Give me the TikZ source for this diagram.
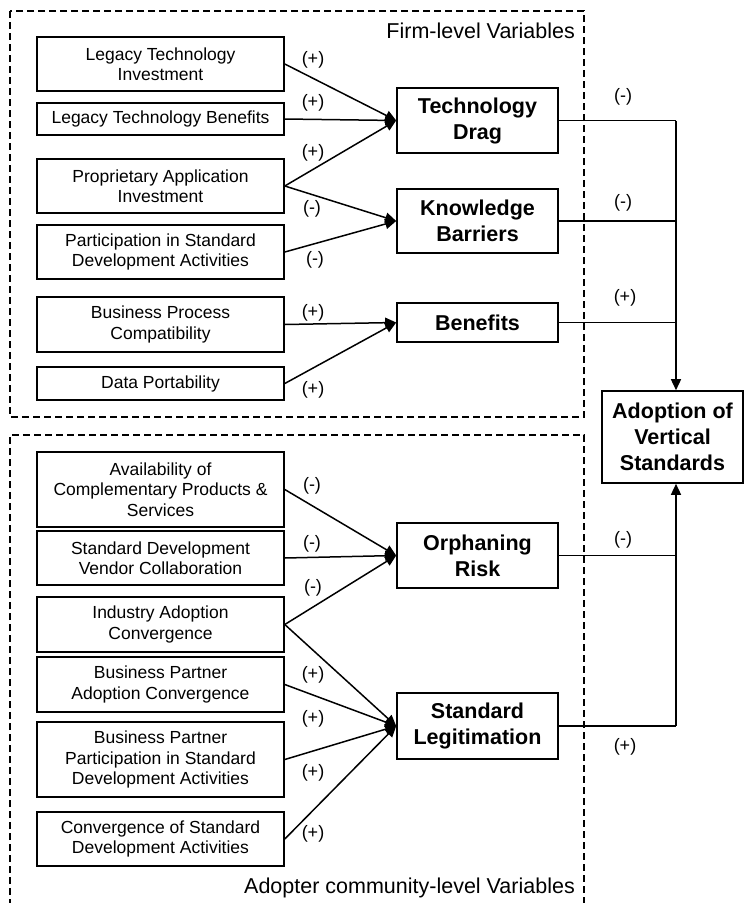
\documentclass[tikz,border=0pt]{standalone}
\usepackage{fontspec}
\setmainfont{Liberation Sans}
\usetikzlibrary{arrows.meta}
\begin{document}
\begin{tikzpicture}[x=1pt,y=-1pt,
  box/.style={draw, line width=1.6pt, align=center, inner sep=0pt, minimum width=247pt, font=\fontsize{17.5}{20.5}\selectfont},
  cbox/.style={draw, line width=1.6pt, align=center, inner sep=0pt, minimum width=161pt, font=\fontsize{21.5}{26}\selectfont\bfseries},
  sgn/.style={font=\fontsize{18}{20}\selectfont, inner sep=0pt},
  grptitle/.style={font=\fontsize{21.5}{24}\selectfont, inner sep=0pt, anchor=east},
  conn/.style={line width=1.5pt, -{Triangle[length=11pt,width=10pt]}},
  link/.style={line width=1.5pt},
  grp/.style={dash pattern=on 7pt off 4pt, line width=1.2pt}]
\useasboundingbox (0,0) rectangle (744,903);

% group frames
\draw[grp] (10,11) rectangle (584,417);
\draw[grp] (10,906) -- (10,435) -- (584,435) -- (584,906);
\node[grptitle] (firmlbl) at (575,31) {Firm-level Variables};
\node[grptitle] (adoplbl) at (575,888) {Adopter community-level Variables};

% left column
\node[box, minimum height=54pt] (lti) at (160.5,64) {Legacy Technology\\Investment};
\node[box, minimum height=32pt] (ltb) at (160.5,119) {Legacy Technology Benefits};
\node[box, minimum height=54pt] (pai) at (160.5,186) {Proprietary Application\\Investment};
\node[box, minimum height=54pt] (psda) at (160.5,252) {Participation in Standard\\Development Activities};
\node[box, minimum height=55pt] (bpc) at (160.5,324.5) {Business Process\\Compatibility};
\node[box, minimum height=33pt] (dp) at (160.5,383.5) {Data Portability};
\node[box, minimum height=75pt] (acps) at (160.5,489.5) {Availability of\\Complementary Products \&\\Services};
\node[box, minimum height=54pt] (sdvc) at (160.5,558) {Standard Development\\Vendor Collaboration};
\node[box, minimum height=55pt] (iac) at (160.5,624.5) {Industry Adoption\\Convergence};
\node[box, minimum height=55pt] (bpac) at (160.5,684.5) {Business Partner\\Adoption Convergence};
\node[box, minimum height=75pt] (bppsda) at (160.5,759.5) {Business Partner\\Participation in Standard\\Development Activities};
\node[box, minimum height=54pt] (csda) at (160.5,839) {Convergence of Standard\\Development Activities};

% middle column
\node[cbox, minimum height=65pt] (td) at (477.5,120.5) {Technology\\Drag};
\node[cbox, minimum height=64pt] (kb) at (477.5,221) {Knowledge\\Barriers};
\node[cbox, minimum height=39pt] (ben) at (477.5,322.5) {Benefits};
\node[cbox, minimum height=65pt] (orisk) at (477.5,555.5) {Orphaning\\Risk};
\node[cbox, minimum height=66pt] (sl) at (477.5,726) {Standard\\Legitimation};

% outcome
\node[cbox, minimum width=141pt, minimum height=92pt] (adopt) at (672.5,437) {Adoption of\\Vertical\\Standards};

% left connectors
\draw[conn] (lti.east) -- (td.west);
\draw[conn] (ltb.east) -- (td.west);
\draw[conn] (pai.east) -- (td.west);
\draw[conn] (pai.east) -- (kb.west);
\draw[conn] (psda.east) -- (kb.west);
\draw[conn] (bpc.east) -- (ben.west);
\draw[conn] (dp.east) -- (ben.west);
\draw[conn] (acps.east) -- (orisk.west);
\draw[conn] (sdvc.east) -- (orisk.west);
\draw[conn] (iac.east) -- (orisk.west);
\draw[conn] (iac.east) -- (sl.west);
\draw[conn] (bpac.east) -- (sl.west);
\draw[conn] (bppsda.east) -- (sl.west);
\draw[conn] (csda.east) -- (sl.west);

% right connectors
\coordinate (jx) at (676,0);
\draw[link] (td.east) -- (td.east -| jx) coordinate (j1);
\draw[conn] (j1) -- (jx |- adopt.north);
\draw[link] (kb.east) -- (kb.east -| jx);
\draw[link] (ben.east) -- (ben.east -| jx);
\draw[link] (sl.east) -- (sl.east -| jx) coordinate (j2);
\draw[conn] (j2) -- (jx |- adopt.south);
\draw[link] (orisk.east) -- (orisk.east -| jx);

% signs
\node[sgn] (s1) at (313,60) {(+)};
\node[sgn] (s2) at (313,103) {(+)};
\node[sgn] (s3) at (313,153) {(+)};
\node[sgn] (s4) at (312,209) {(-)};
\node[sgn] (s5) at (315,260) {(-)};
\node[sgn] (s6) at (313,313) {(+)};
\node[sgn] (s7) at (313,390) {(+)};
\node[sgn] (s8) at (312,486) {(-)};
\node[sgn] (s9) at (312,544) {(-)};
\node[sgn] (s10) at (313,588) {(-)};
\node[sgn] (s11) at (313,675) {(+)};
\node[sgn] (s12) at (313,719) {(+)};
\node[sgn] (s13) at (313,773) {(+)};
\node[sgn] (s14) at (313,834) {(+)};
\node[sgn] (r1) at (623,97) {(-)};
\node[sgn] (r2) at (623,203) {(-)};
\node[sgn] (r3) at (625,298) {(+)};
\node[sgn] (r4) at (623,540) {(-)};
\node[sgn] (r5) at (625,747) {(+)};
\end{tikzpicture}
\end{document}
